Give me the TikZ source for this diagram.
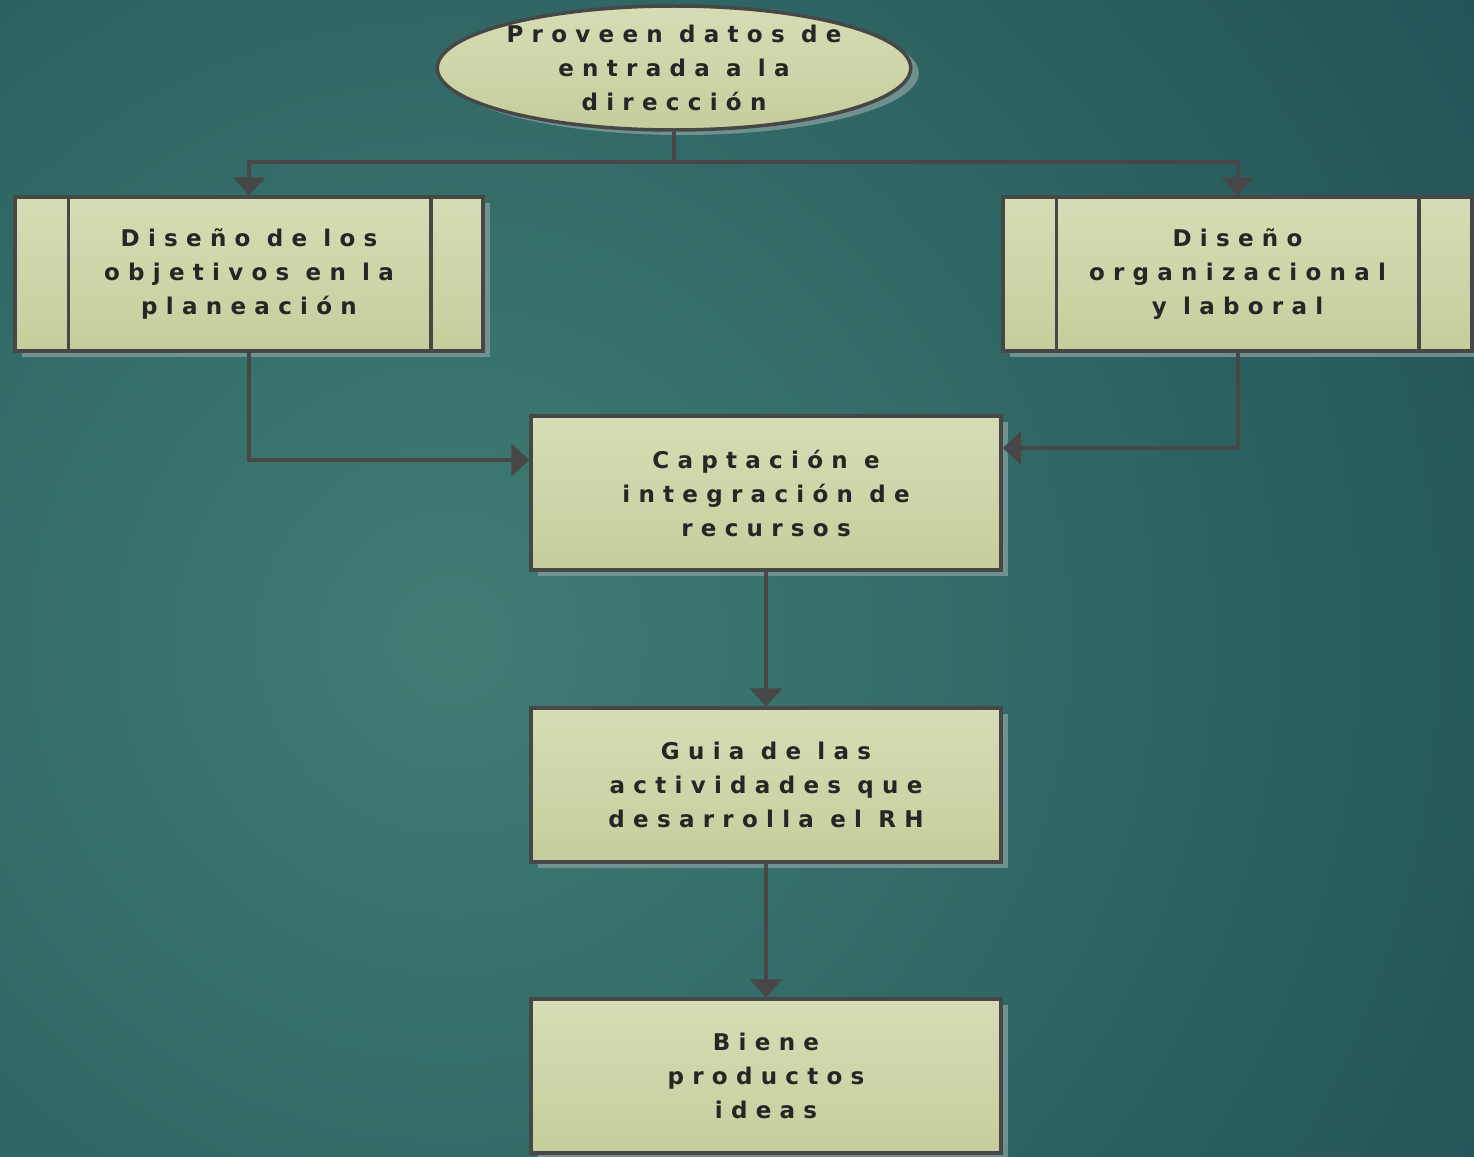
\documentclass[tikz,border=0pt]{standalone}
\usepackage{fontspec}
\newfontfamily\lblfont[LetterSpace=36]{DejaVu Sans Bold}
\usetikzlibrary{shapes.geometric,shadows,arrows.meta}
\definecolor{bgin}{HTML}{3F7D73}
\definecolor{bgout}{HTML}{0E3444}
\definecolor{boxtop}{HTML}{D6DDB5}
\definecolor{boxbot}{HTML}{C6CD9C}
\definecolor{edge}{HTML}{474747}
\definecolor{shade}{HTML}{7E9C9A}
\begin{document}
\begin{tikzpicture}[x=1pt,y=-1pt,
  every node/.style={font=\lblfont\fontsize{23}{34}\selectfont, text=black!85, align=center},
  flowbox/.style={draw=edge, line width=3.5pt, top color=boxtop, bottom color=boxbot,
     minimum width=470pt, minimum height=154pt, inner sep=0pt,
     drop shadow={shadow xshift=7pt, shadow yshift=-6pt, fill=shade, opacity=0.8}},
  termbox/.style={ellipse, draw=edge, line width=3.5pt, top color=boxtop, bottom color=boxbot,
     minimum width=472pt, minimum height=124pt, inner sep=0pt,
     drop shadow={shadow xshift=8pt, shadow yshift=-5pt, fill=shade, opacity=0.8}},
  conn/.style={draw=edge, line width=4pt},
  arr/.style={conn, -{Triangle[width=32pt,length=18pt]}}
]
\useasboundingbox (0,0) rectangle (1474,1156);
\begin{scope}
  \clip (0,0) rectangle (1474,1156);
  \shade[inner color=bgin, outer color=bgout] (450,640) circle (2100);
\end{scope}

\node[termbox] (top) at (674,68) {Proveen datos de\\entrada a la\\dirección};
\node[flowbox, minimum width=468pt] (left) at (249,274) {Diseño de los\\objetivos en la\\planeación};
\node[flowbox, minimum width=469pt] (right) at (1237.5,274) {Diseño\\organizacional\\y laboral};
\node[flowbox] (capt) at (766,493) {Captación e\\integración de\\recursos};
\node[flowbox] (guia) at (766,785) {Guia de las\\actividades que\\desarrolla el RH};
\node[flowbox] (bien) at (766,1076) {Biene\\productos\\ideas};

% inner bars of predefined-process boxes
\draw[conn, line width=3.5pt] ([xshift=55pt]left.north west) -- ([xshift=55pt]left.south west);
\draw[conn, line width=3.5pt] ([xshift=-54pt]left.north east) -- ([xshift=-54pt]left.south east);
\draw[conn, line width=3.5pt] ([xshift=55pt]right.north west) -- ([xshift=55pt]right.south west);
\draw[conn, line width=3.5pt] ([xshift=-55pt]right.north east) -- ([xshift=-55pt]right.south east);

% connectors
\coordinate (j) at (674,162);
\draw[conn] (top.south) -- (j);
\draw[arr] (j) -| (left.north);
\draw[arr] (j) -| (right.north);
\draw[arr] (left.south) |- ([yshift=33pt]capt.west);
\draw[arr] (right.south) |- ([yshift=45pt]capt.east);
\draw[arr] (capt.south) -- (guia.north);
\draw[arr] (guia.south) -- (bien.north);
\end{tikzpicture}
\end{document}
